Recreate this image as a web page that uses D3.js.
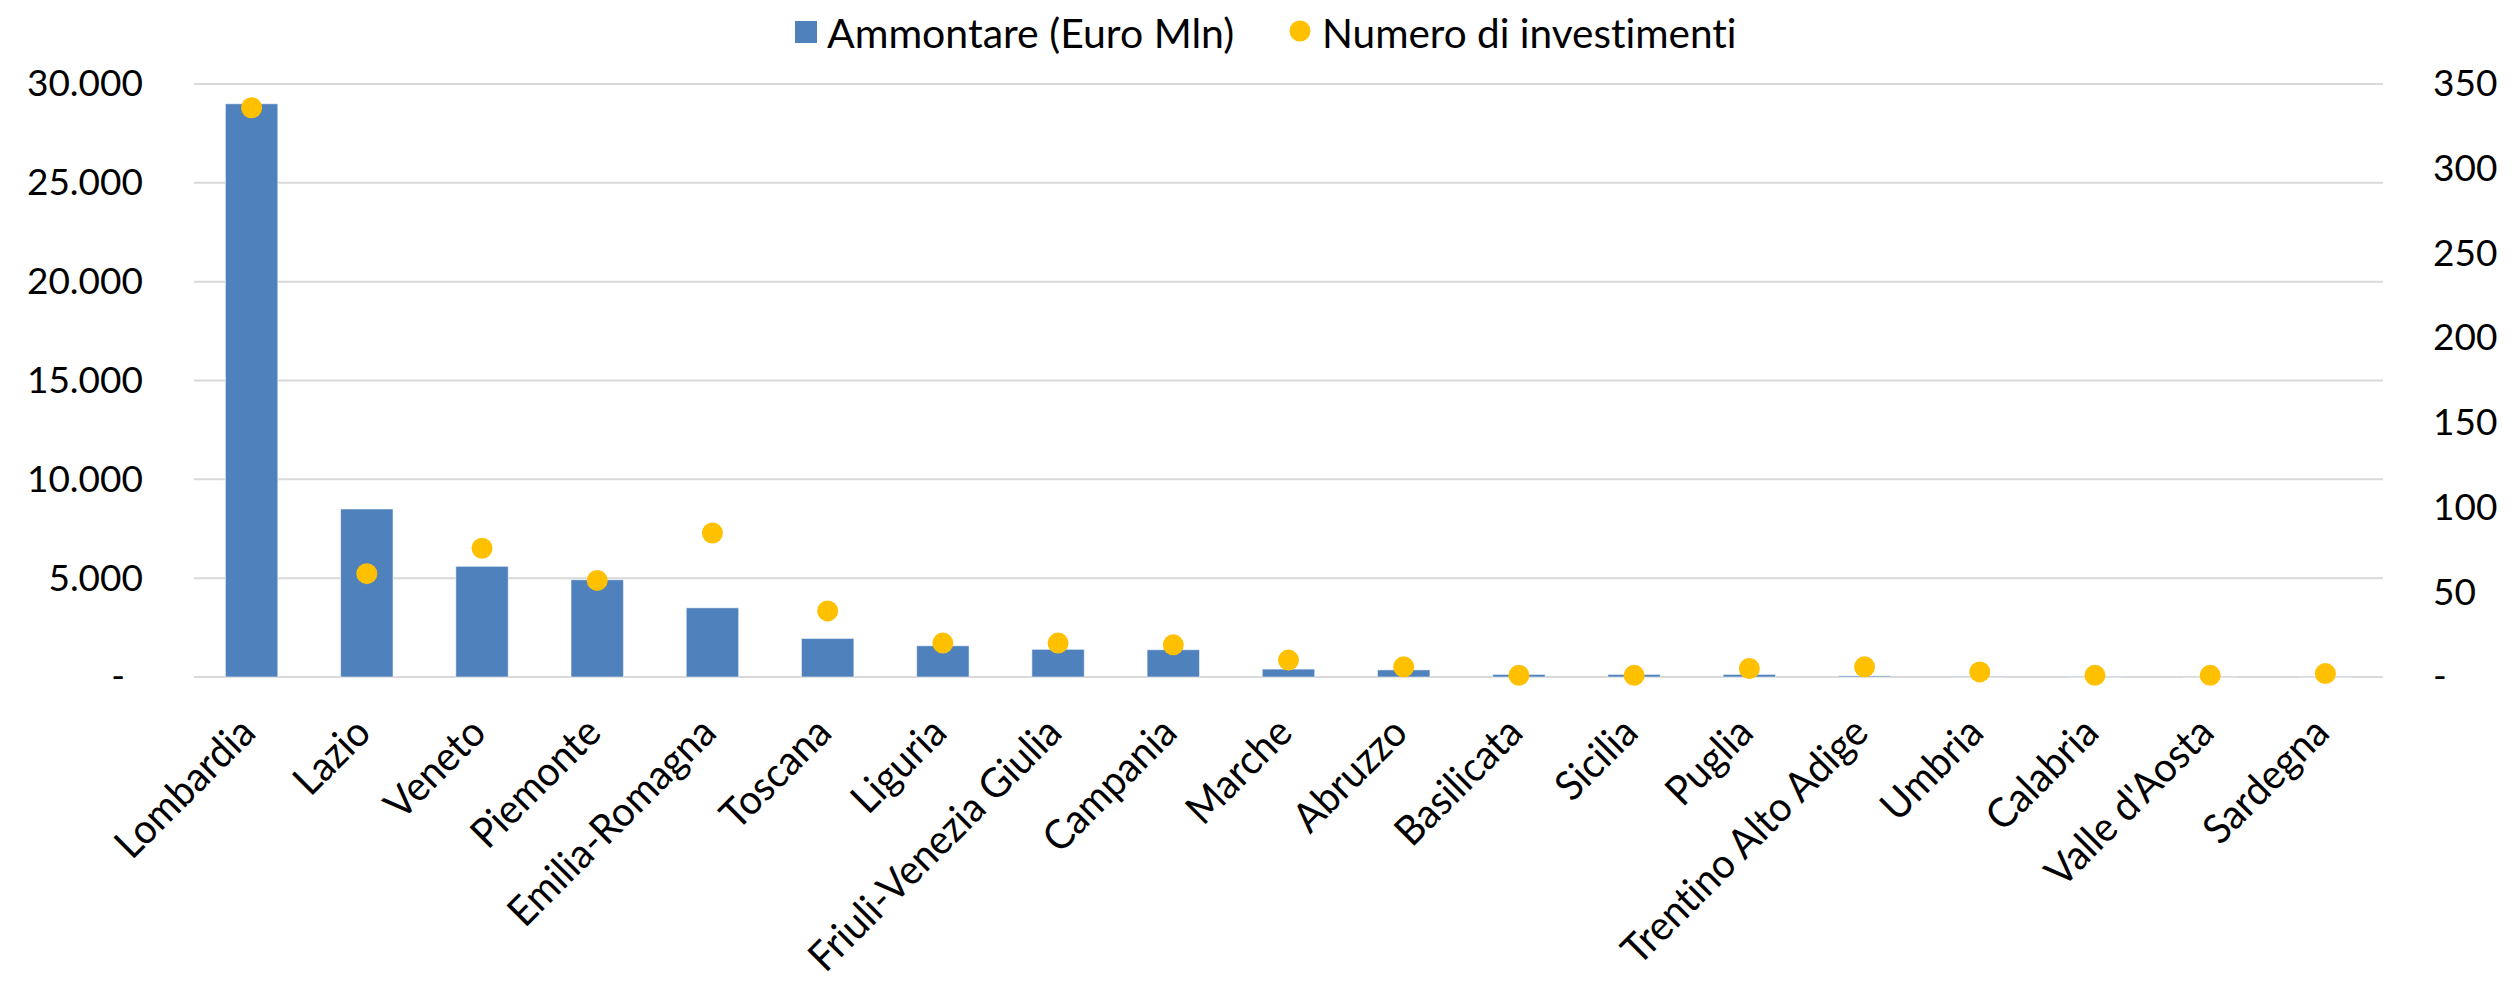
<!DOCTYPE html>
<html>
<head>
<meta charset="utf-8">
<script src="https://cdn.jsdelivr.net/npm/d3@7"></script>
<style>
  html, body { margin: 0; padding: 0; background: #ffffff; }
  svg { display: block; }
  text { font-family: Lato, "Open Sans", sans-serif; fill: #000; font-variant-ligatures: none; }
</style>
</head>
<body>
<svg id="chart" width="2516" height="982"></svg>
<script>
// ---- Data ----
const categories = ["Lombardia", "Lazio", "Veneto", "Piemonte", "Emilia-Romagna", "Toscana", "Liguria",
  "Friuli-Venezia Giulia", "Campania", "Marche", "Abruzzo", "Basilicata", "Sicilia", "Puglia",
  "Trentino Alto Adige", "Umbria", "Calabria", "Valle d'Aosta", "Sardegna"];
const ammontare = [29000, 8500, 5600, 4920, 3500, 1950, 1580, 1400, 1380, 400, 360, 130, 130, 130, 60, 30, 20, 10, 10];
const numeroInvestimenti = [336, 61, 76, 57, 85, 39, 20, 20, 19, 10, 6, 1, 1, 5, 6, 3, 1, 1, 2];
const leftTicks = [0, 5000, 10000, 15000, 20000, 25000, 30000];
const rightTicks = [0, 50, 100, 150, 200, 250, 300, 350];
const seriesNames = ["Ammontare (Euro Mln)", "Numero di investimenti"];

// ---- Layout ----
const W = 2516, H = 982;
const plot = { left: 194, right: 2383, top: 84, bottom: 677 };
const fontSize = 37;
const barColor = "#4F81BD", dotColor = "#FFC000", gridColor = "#D9D9D9";

const svg = d3.select("#chart");

const x = d3.scaleBand()
  .domain(categories)
  .range([plot.left, plot.right])
  .paddingInner(0.545)
  .paddingOuter(0.2725);

const yL = d3.scaleLinear().domain([0, 30000]).range([plot.bottom, plot.top]);
const yR = d3.scaleLinear().domain([0, 350]).range([plot.bottom, plot.top]);

const it = d3.formatLocale({ decimal: ",", thousands: ".", grouping: [3], currency: ["€", ""] });
const fmt = it.format(",.0f");

// gridlines
svg.append("g").selectAll("line")
  .data(leftTicks)
  .join("line")
  .attr("x1", plot.left).attr("x2", plot.right)
  .attr("y1", d => yL(d)).attr("y2", d => yL(d))
  .attr("stroke", gridColor).attr("stroke-width", 2);

// left axis
const gL = svg.append("g")
  .attr("transform", `translate(${plot.left},0)`)
  .call(d3.axisLeft(yL).tickValues(leftTicks).tickSize(0).tickPadding(51)
    .tickFormat(d => d === 0 ? "-" : fmt(d)));
gL.select(".domain").remove();
gL.selectAll("text").attr("font-size", fontSize).attr("font-family", "Lato, sans-serif").attr("fill", "#000")
  .attr("dx", d => d === 0 ? -18 : 0);

// right axis
const gR = svg.append("g")
  .attr("transform", `translate(${plot.right},0)`)
  .call(d3.axisRight(yR).tickValues(rightTicks).tickSize(0).tickPadding(50)
    .tickFormat(d => d === 0 ? "-" : fmt(d)));
gR.select(".domain").remove();
gR.selectAll("text").attr("font-size", fontSize).attr("font-family", "Lato, sans-serif").attr("fill", "#000");

// bars
svg.append("g").selectAll("rect")
  .data(categories)
  .join("rect")
  .attr("x", d => x(d))
  .attr("width", x.bandwidth())
  .attr("y", (d, i) => yL(ammontare[i]))
  .attr("height", (d, i) => yL(0) - yL(ammontare[i]))
  .attr("fill", barColor)
  .attr("stroke", "rgba(255,255,255,0.55)")
  .attr("stroke-width", 1);

// dots
svg.append("g").selectAll("circle")
  .data(categories)
  .join("circle")
  .attr("cx", d => x(d) + x.bandwidth() / 2)
  .attr("cy", (d, i) => yR(numeroInvestimenti[i]))
  .attr("r", 10.5)
  .attr("fill", dotColor);

// x axis labels
const gX = svg.append("g")
  .attr("transform", `translate(0,${plot.bottom})`)
  .call(d3.axisBottom(x).tickSize(0).tickPadding(0));
gX.select(".domain").remove();
gX.selectAll(".tick text")
  .attr("font-size", 39)
  .attr("font-family", "Lato, sans-serif")
  .attr("fill", "#000")
  .attr("text-anchor", "end")
  .attr("dy", null)
  .attr("y", 0)
  .attr("transform", "translate(6,58) rotate(-45) scale(1,1.05)");

// legend
const lg = svg.append("g");
lg.append("rect").attr("x", 795).attr("y", 21).attr("width", 22).attr("height", 22).attr("fill", barColor);
lg.append("text").attr("x", 827).attr("y", 32).attr("dominant-baseline", "central")
  .attr("font-size", 41).text(seriesNames[0]);
lg.append("circle").attr("cx", 1300).attr("cy", 31).attr("r", 10.5).attr("fill", dotColor);
lg.append("text").attr("x", 1322).attr("y", 32).attr("dominant-baseline", "central")
  .attr("font-size", 40.5).text(seriesNames[1]);
</script>
</body>
</html>
